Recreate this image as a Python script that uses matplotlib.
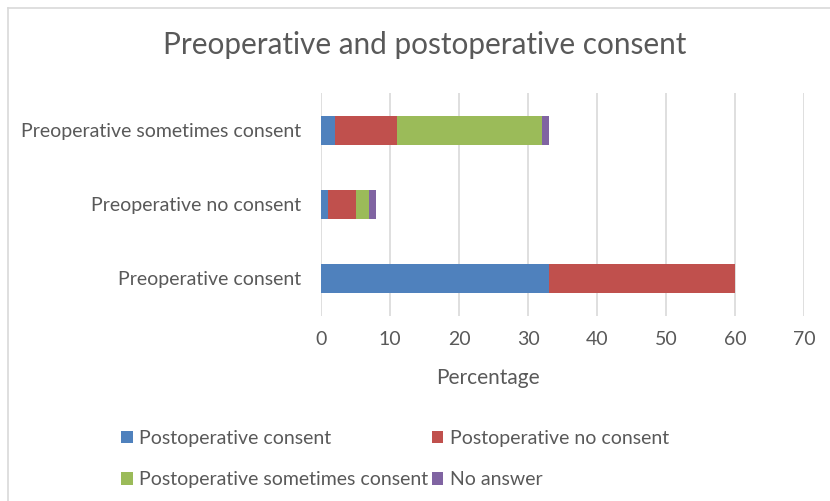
import numpy as np
import matplotlib
matplotlib.use("Agg")
from matplotlib import pyplot as plt
from matplotlib.lines import Line2D

plt.rcParams['font.family'] = ['Lato', 'DejaVu Sans']

categories = ['Preoperative consent', 'Preoperative no consent', 'Preoperative sometimes consent']
series_names = ['Postoperative consent', 'Postoperative no consent',
                'Postoperative sometimes consent', 'No answer']
post_consent = [33, 1, 2]
post_no_consent = [27, 4, 9]
post_sometimes = [0, 2, 21]
no_answer = [0, 1, 1]
colors = ['#4f81bd', '#c0504d', '#9bbb59', '#8064a2']
xticks = [0, 10, 20, 30, 40, 50, 60, 70]

txt = '#595959'
fig = plt.figure(figsize=(8.3, 5.01), dpi=100)
ax = fig.add_axes([321/830, 1-315.5/501, 483/830, 222/501])

y = np.arange(len(categories))
left = np.zeros(len(categories))
bars = []
for vals, name, c in zip([post_consent, post_no_consent, post_sometimes, no_answer], series_names, colors):
    b = ax.barh(y, vals, left=left, height=0.4, color=c, label=name, zorder=3)
    bars.append(b)
    left = left + np.array(vals)

ax.set_xlim(0, 70)
ax.set_ylim(-0.5, 2.5)
ax.set_xticks(xticks)
ax.set_yticks(y)
ax.set_yticklabels(categories)
ax.tick_params(length=0, labelsize=14, labelcolor=txt)
ax.tick_params(axis='x', pad=11)
ax.tick_params(axis='y', pad=14.5)
ax.grid(axis='x', color='#d9d9d9', linewidth=1.2, zorder=0)
for s in ax.spines.values():
    s.set_visible(False)

fig.text(488/830, 1-378/501, 'Percentage', ha='center', va='center', fontsize=15, color=txt)
fig.text(425/830, 1-45/501, 'Preoperative and postoperative consent', ha='center', va='center',
         fontsize=21.4, color=txt)

handles = [bars[0], bars[2], bars[1], bars[3]]
labels = [series_names[0], series_names[2], series_names[1], series_names[3]]
fig.legend(handles, labels, ncol=2, loc='upper left', bbox_to_anchor=(121/830, 1-430/501),
           frameon=False, fontsize=14, labelcolor=txt, handlelength=0.6, handleheight=0.6,
           handletextpad=0.35, columnspacing=0.15, labelspacing=1.25, borderpad=0,
           borderaxespad=0)

# chart border
fig.add_artist(Line2D([8/830, 8/830], [0, 1-8/501], color='#d9d9d9', lw=1.2, transform=fig.transFigure))
fig.add_artist(Line2D([8/830, 1], [1-8/501, 1-8/501], color='#d9d9d9', lw=1.2, transform=fig.transFigure))

fig.savefig('out.png', dpi=100)
